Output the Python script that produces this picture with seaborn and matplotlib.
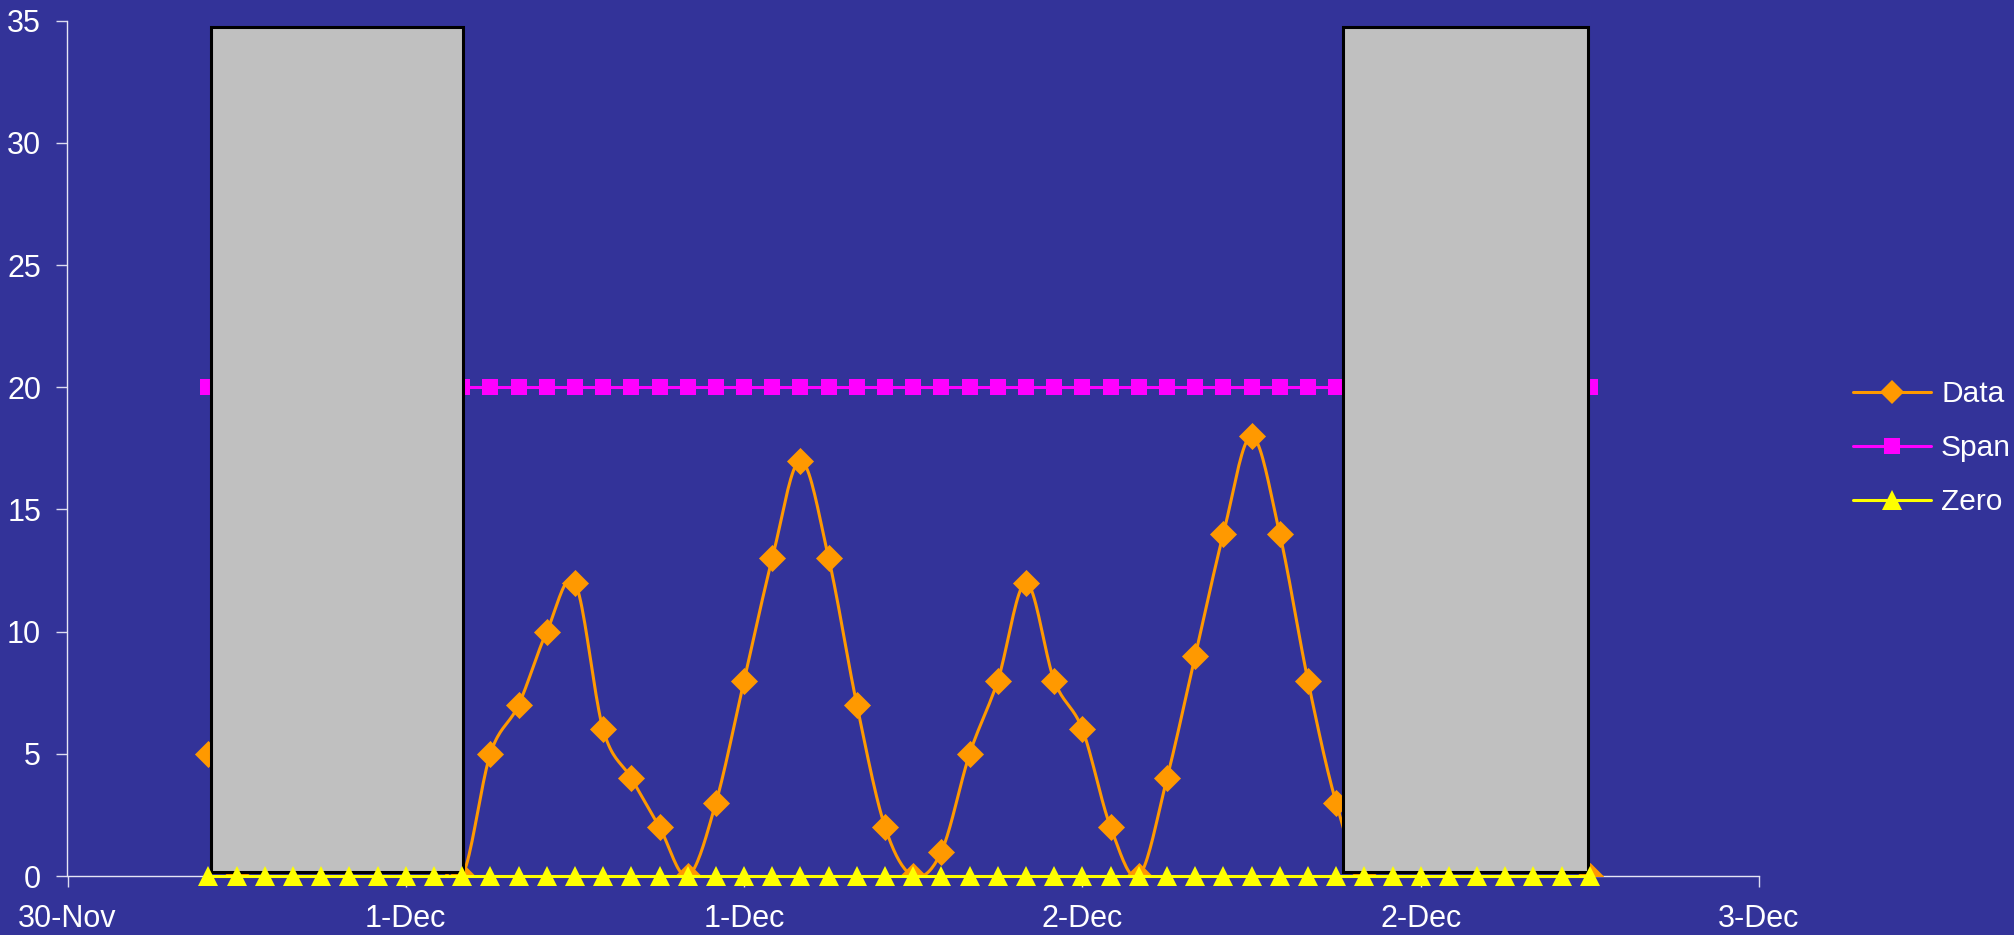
import numpy as np
import pandas as pd
import matplotlib
matplotlib.use("Agg")
import matplotlib.pyplot as plt
import matplotlib.dates as mdates
from matplotlib.lines import Line2D
import seaborn as sns

# ---------------- data ----------------
times = pd.date_range("2008-11-30 06:00", periods=50, freq="72min")
data_values = [5, 0, 2, 6, 10, 12, 8, 4, 1, 0,
               5, 7, 10, 12, 6, 4, 2, 0, 3, 8,
               13, 17, 13, 7, 2, 0, 1, 5, 8, 12,
               8, 6, 2, 0, 4, 9, 14, 18, 14, 8,
               3, 0, 3, 8, 13, 16, 11, 5, 1, 0]
span_values = [20] * 50
zero_values = [0] * 50

# excluded periods (grey boxes), in days after 30-Nov 00:00
box_start = [0.254, 2.262]
box_end = [0.701, 2.697]
box_bottom = [0.16, 0.16]
box_top = [34.76, 34.76]

tick_labels = ["30-Nov", "1-Dec", "1-Dec", "2-Dec", "2-Dec", "3-Dec"]
tick_step_hours = 14.4
axis_start = pd.Timestamp("2008-11-30 00:00")
y_ticks = [0, 5, 10, 15, 20, 25, 30, 35]

# ---------------- style ----------------
BG = "#333399"
sns.set_theme(style="white")
plt.rcParams["font.family"] = ["Liberation Sans", "DejaVu Sans"]
plt.rcParams["text.color"] = "white"

fig = plt.figure(figsize=(20.15, 9.35), dpi=100, facecolor=BG)
ax = fig.add_axes([67.5 / 2015, 1 - 876 / 935, (1759 - 67.5) / 2015, (876 - 20.7) / 935])
ax.set_facecolor(BG)

x = mdates.date2num(times)
df = pd.DataFrame({"t": x, "Data": data_values, "Span": span_values, "Zero": zero_values})

# smoothed data line (Catmull-Rom, like Excel "smoothed line")
def catmull_rom(xs, ys, n=20):
    xs = np.asarray(xs, float); ys = np.asarray(ys, float)
    px = np.concatenate([[2 * xs[0] - xs[1]], xs, [2 * xs[-1] - xs[-2]]])
    py = np.concatenate([[ys[0]], ys, [ys[-1]]])
    ox, oy = [], []
    for i in range(1, len(px) - 2):
        t = np.linspace(0, 1, n, endpoint=False)
        for arr, out in ((px, ox), (py, oy)):
            p0, p1, p2, p3 = arr[i - 1], arr[i], arr[i + 1], arr[i + 2]
            out.extend(0.5 * ((2 * p1) + (-p0 + p2) * t
                              + (2 * p0 - 5 * p1 + 4 * p2 - p3) * t ** 2
                              + (-p0 + 3 * p1 - 3 * p2 + p3) * t ** 3))
    ox.append(xs[-1]); oy.append(ys[-1])
    return np.array(ox), np.array(oy)

sx, sy = catmull_rom(df["t"], df["Data"])
smooth = pd.DataFrame({"t": sx, "y": sy})

ORANGE = "#FF9900"
MAGENTA = "#FF00FF"
YELLOW = "#FFFF00"

sns.lineplot(data=smooth, x="t", y="y", ax=ax, color=ORANGE, lw=2.2, zorder=2,
             estimator=None, sort=False)
sns.scatterplot(data=df, x="t", y="Data", ax=ax, marker="D", s=190, color=ORANGE,
                linewidth=0, zorder=2.1)
sns.lineplot(data=df, x="t", y="Span", ax=ax, color=MAGENTA, lw=2.2, marker="s",
             markersize=12, markeredgewidth=0, zorder=2.5, estimator=None)

# grey exclusion boxes
x0 = mdates.date2num(axis_start)
for s, e, b, t in zip(box_start, box_end, box_bottom, box_top):
    ax.bar(x0 + s, t - b, width=e - s, bottom=b, align="edge", color="#C0C0C0",
           edgecolor="black", linewidth=2.2, zorder=3)

sns.lineplot(data=df, x="t", y="Zero", ax=ax, color=YELLOW, lw=2.2, marker="^",
             markersize=14, markeredgewidth=0, zorder=4, estimator=None, clip_on=False)

# ---------------- axes ----------------
ax.set_xlim(x0, x0 + 3)
ax.set_ylim(0, 35)
xt = [x0 + k * tick_step_hours / 24 for k in range(len(tick_labels))]
ax.set_xticks(xt)
ax.set_xticklabels(tick_labels)
ax.set_yticks(y_ticks)
ax.set_yticklabels([str(v) for v in y_ticks])
ax.set_xlabel("")
ax.set_ylabel("")
ax.tick_params(axis="both", colors="#dcdcf0", labelcolor="white", labelsize=22,
               length=8, width=1, direction="out")
ax.tick_params(axis="x", pad=12, bottom=True)
ax.tick_params(axis="y", pad=11, left=True)
for side in ("top", "right"):
    ax.spines[side].set_visible(False)
for side in ("left", "bottom"):
    ax.spines[side].set_color("#e6e6f5")
    ax.spines[side].set_linewidth(1)
    ax.spines[side].set_zorder(1)

# ---------------- legend ----------------
handles = [
    Line2D([], [], color=ORANGE, lw=2.2, marker="D", markersize=12, markeredgewidth=0),
    Line2D([], [], color=MAGENTA, lw=2.2, marker="s", markersize=12, markeredgewidth=0),
    Line2D([], [], color=YELLOW, lw=2.2, marker="^", markersize=14, markeredgewidth=0),
]
leg = fig.legend(handles, ["Data", "Span", "Zero"], loc="center left",
                 bbox_to_anchor=(1853 / 2015, 1 - 448 / 935), frameon=False,
                 fontsize=21.5, handlelength=2.6, handletextpad=0.35,
                 labelspacing=0.87, borderpad=0, borderaxespad=0)
for txt in leg.get_texts():
    txt.set_color("white")

fig.savefig("out.png", dpi=100, facecolor=BG)
